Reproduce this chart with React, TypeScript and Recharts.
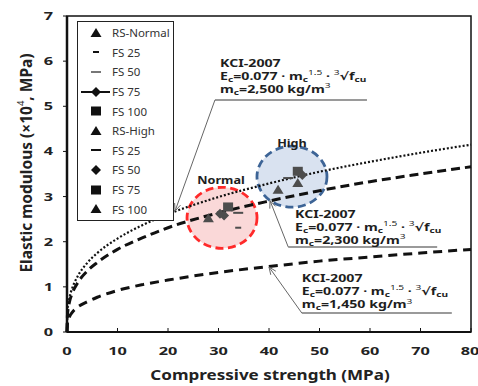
import { ComposedChart, Line, Scatter, XAxis, YAxis, ReferenceLine, ReferenceDot, ReferenceArea, Legend } from 'recharts';

// KCI-2007 curves (x10^4 MPa)
const strength = [0, 0.1, 0.5, 1, 2, 4, 6, 10, 15, 20, 30, 40, 50, 60, 70, 80];
const kci2500 = [0, 0.45, 0.76, 0.96, 1.21, 1.53, 1.75, 2.07, 2.37, 2.61, 2.99, 3.29, 3.55, 3.77, 3.97, 4.15];
const kci2300 = [0, 0.39, 0.67, 0.85, 1.07, 1.35, 1.54, 1.83, 2.09, 2.31, 2.64, 2.9, 3.13, 3.33, 3.5, 3.66];
const kci1450 = [0, 0.2, 0.34, 0.43, 0.54, 0.67, 0.77, 0.92, 1.05, 1.15, 1.32, 1.45, 1.57, 1.66, 1.75, 1.83];

const xTicks = [0, 10, 20, 30, 40, 50, 60, 70, 80];
const yTicks = [0, 1, 2, 3, 4, 5, 6, 7];

// measured specimens
const rsNormal = [{ x: 28.0, y: 2.52 }];
const fs25Normal = [{ x: 33.9, y: 2.31 }];
const fs50Normal = [{ x: 33.9, y: 2.64 }];
const fs75Normal = [{ x: 30.3, y: 2.62 }, { x: 31.1, y: 2.58 }];
const fs100Normal = [{ x: 31.9, y: 2.77 }];
const rsHigh = [{ x: 41.8, y: 3.15 }];
const fs25High = [{ x: 43.8, y: 3.41 }];
const fs50High = [{ x: 46.6, y: 3.48 }];
const fs75High = [{ x: 45.7, y: 3.56 }];
const fs100High = [{ x: 45.7, y: 3.3 }];

const legendLabels = ['RS-Normal', 'FS 25', 'FS 50', 'FS 75', 'FS 100', 'RS-High', 'FS 25', 'FS 50', 'FS 75', 'FS 100'];
const legendKinds = ['triangle', 'dot', 'dash', 'lineDiamond', 'square', 'triangle', 'dash', 'diamond', 'square', 'triangle'];

const curveData = strength.map((x, i) => ({ x, a: kci2500[i], b: kci2300[i], c: kci1450[i] }));

const FONT = '"Noto Sans", "DejaVu Sans", sans-serif';
const MARK = '#4d4d4d';

// the original figure is stretched sideways, so text gets a horizontal scale
function WideText({ x, y, sx = 1.35, anchor = 'start', size = 10.5, weight = 700, fill = '#1e1e1e', children }: any) {
  return (
    <text transform={`translate(${x} ${y}) scale(${sx} 1)`} textAnchor={anchor} fontSize={size} fontWeight={weight} fontFamily={FONT} fill={fill}>
      {children}
    </text>
  );
}

function Mark({ kind, cx, cy, color = MARK }: any) {
  if (cx == null || cy == null || isNaN(cx) || isNaN(cy)) return null;
  switch (kind) {
    case 'triangle':
      return <polygon points={`${cx},${cy - 5} ${cx + 5.5},${cy + 4} ${cx - 5.5},${cy + 4}`} fill={color} />;
    case 'square':
      return <rect x={cx - 5} y={cy - 4.5} width={10} height={9} fill={color} />;
    case 'diamond':
      return <polygon points={`${cx},${cy - 5} ${cx + 5},${cy} ${cx},${cy + 5} ${cx - 5},${cy}`} fill={color} />;
    case 'dot':
      return <rect x={cx - 3} y={cy - 1} width={6} height={2} fill={color} />;
    case 'dash':
      return <rect x={cx - 5} y={cy - 1} width={10} height={2} fill={color} />;
    default:
      return null;
  }
}

function LegendBox() {
  return (
    <div style={{ border: '1.5px solid #222', background: '#fff', width: 95, padding: '1px 0', fontFamily: FONT, fontSize: 11.5, color: '#333' }}>
      {legendLabels.map((label, i) => (
        <div key={i} style={{ display: 'flex', alignItems: 'center', height: 19.6 }}>
          <svg width={32} height={14} style={{ flex: 'none' }}>
            {legendKinds[i] === 'lineDiamond' ? (
              <g>
                <line x1={3} y1={7} x2={32} y2={7} stroke="#111" strokeWidth={2} />
                <Mark kind="diamond" cx={18} cy={7} color="#111" />
              </g>
            ) : (
              <Mark kind={legendKinds[i]} cx={18} cy={7} color={i === 2 ? '#777' : '#111'} />
            )}
          </svg>
          <span style={{ marginLeft: 2 }}>{label}</span>
        </div>
      ))}
    </div>
  );
}

function Note({ cx, cy, mc }: any) {
  const s = 7.5;
  return (
    <g>
      <WideText x={cx} y={cy}>KCI-2007</WideText>
      <WideText x={cx} y={cy + 13}>
        E<tspan fontSize={s} dy={2}>c</tspan>
        <tspan dy={-2}>=0.077 · m</tspan>
        <tspan fontSize={s} dy={2}>c</tspan>
        <tspan fontSize={s} fontWeight={400} dy={-6.5}>1.5</tspan>
        <tspan dy={4.5}> · </tspan>
        <tspan fontSize={s} fontWeight={400} dy={-4.5}>3</tspan>
        <tspan dy={4.5}>√f</tspan>
        <tspan fontSize={s} dy={2}>cu</tspan>
      </WideText>
      <WideText x={cx} y={cy + 26.2}>
        m<tspan fontSize={s} dy={2}>c</tspan>
        <tspan dy={-2}>={mc} kg/m</tspan>
        <tspan fontSize={s} fontWeight={400} dy={-4.5}>3</tspan>
      </WideText>
    </g>
  );
}

function Leader({ x1, y1, x2, y2 }: any) {
  const ang = Math.atan2(y2 - y1, x2 - x1);
  const L = 8;
  const p1 = [x2 - L * Math.cos(ang - 0.4), y2 - L * Math.sin(ang - 0.4)];
  const p2 = [x2 - L * Math.cos(ang + 0.4), y2 - L * Math.sin(ang + 0.4)];
  return (
    <g stroke="#666" strokeWidth={1} fill="none">
      <line x1={x1} y1={y1} x2={x2} y2={y2} />
      <polyline points={`${p1[0]},${p1[1]} ${x2},${y2} ${p2[0]},${p2[1]}`} />
    </g>
  );
}

function Bubble({ cx, cy, stroke, fill }: any) {
  return <ellipse cx={cx} cy={cy} rx={35} ry={30.5} fill={fill} fillOpacity={0.176} stroke={stroke} strokeWidth={2.8} strokeDasharray="8 4.5" />;
}

const XTick = ({ x, y, payload }: any) => (
  <WideText x={x} y={y + 7.5} anchor="middle" sx={1.55} size={10.5} fill="#222">{payload.value}</WideText>
);
const YTick = ({ x, y, payload }: any) => (
  <WideText x={x} y={y + 4} anchor="end" sx={1.55} size={10.5} fill="#222">{payload.value}</WideText>
);

export default function App() {
  return (
    <div style={{ position: 'absolute', left: 0, top: 0, background: '#fff' }}>
      <ComposedChart width={478} height={386} data={curveData} margin={{ top: 16, right: 7, bottom: 24, left: 27 }}>
        <ReferenceDot x={30.7} y={2.53} r={0} zIndex={0} shape={(p: any) => <Bubble {...p} stroke="#ff2a2a" fill="#e02020" />} />
        <ReferenceDot x={44.55} y={3.44} r={0} zIndex={0} shape={(p: any) => <Bubble {...p} stroke="#3d6496" fill="#285aaa" />} />
        <XAxis
          type="number"
          dataKey="x"
          domain={[0, 80]}
          ticks={xTicks}
          height={30}
          tick={<XTick />}
          tickSize={-4}
          tickMargin={19.5}
          tickLine={{ stroke: '#111' }}
          axisLine={{ stroke: '#111', strokeWidth: 2 }}
          label={{
            content: ({ viewBox }: any) => (
              <WideText x={viewBox.x + viewBox.width / 2 + 1} y={viewBox.y + 48} anchor="middle" sx={1.2} size={14.2} fill="#222">
                Compressive strength (MPa)
              </WideText>
            ),
          }}
        />
        <YAxis
          type="number"
          dataKey="y"
          domain={[0, 7]}
          ticks={yTicks}
          width={40}
          tick={<YTick />}
          tickSize={4}
          tickMargin={10}
          tickLine={{ stroke: '#111' }}
          axisLine={{ stroke: '#111', strokeWidth: 2.5 }}
          label={{
            content: ({ viewBox }: any) => {
              const cx = viewBox.x - 1;
              const cy = viewBox.y + viewBox.height / 2 - 11;
              return (
                <text transform={`translate(${cx} ${cy}) rotate(-90)`} textAnchor="middle" dominantBaseline="central" fontFamily={FONT} fontWeight={700} fontSize={15.5} fill="#222">
                  Elastic modulous (×10<tspan fontSize={9.5} fontWeight={400} dy={-6}>4</tspan><tspan dy={6}>, MPa)</tspan>
                </text>
              );
            },
          }}
        />
        <ReferenceArea x1={0} x2={80} y1={0} y2={7} fill="none" stroke="#111" strokeWidth={1.5} />
        <Line type="monotone" dataKey="a" stroke="#111" strokeWidth={2.2} strokeDasharray="2 2" dot={false} isAnimationActive={false} />
        <Line type="monotone" dataKey="b" stroke="#111" strokeWidth={3} strokeDasharray="9 5" dot={false} isAnimationActive={false} />
        <Line type="monotone" dataKey="c" stroke="#111" strokeWidth={3} strokeDasharray="9 6" dot={false} isAnimationActive={false} />

        <Scatter data={rsNormal} dataKey="y" isAnimationActive={false} shape={(p: any) => <Mark kind="triangle" {...p} />} />
        <Scatter data={fs25Normal} dataKey="y" isAnimationActive={false} shape={(p: any) => <Mark kind="dot" {...p} />} />
        <Scatter data={fs50Normal} dataKey="y" isAnimationActive={false} shape={(p: any) => <Mark kind="dash" {...p} />} />
        <Scatter data={fs75Normal} dataKey="y" isAnimationActive={false} shape={(p: any) => <Mark kind="diamond" {...p} />} />
        <Scatter data={fs100Normal} dataKey="y" isAnimationActive={false} shape={(p: any) => <Mark kind="square" {...p} />} />
        <Scatter data={rsHigh} dataKey="y" isAnimationActive={false} shape={(p: any) => <Mark kind="triangle" {...p} />} />
        <Scatter data={fs25High} dataKey="y" isAnimationActive={false} shape={(p: any) => <Mark kind="dash" {...p} />} />
        <Scatter data={fs50High} dataKey="y" isAnimationActive={false} shape={(p: any) => <Mark kind="diamond" {...p} />} />
        <Scatter data={fs75High} dataKey="y" isAnimationActive={false} shape={(p: any) => <Mark kind="square" {...p} />} />
        <Scatter data={fs100High} dataKey="y" isAnimationActive={false} shape={(p: any) => <Mark kind="triangle" {...p} />} />

        <ReferenceDot x={30.5} y={3.28} r={0} shape={(p: any) => <WideText x={p.cx} y={p.cy} anchor="middle" sx={1.15} size={11}>Normal</WideText>} />
        <ReferenceDot x={44.55} y={4.1} r={0} shape={(p: any) => <WideText x={p.cx} y={p.cy} anchor="middle" sx={1.15} size={11}>High</WideText>} />

        <ReferenceLine segment={[{ x: 29.3, y: 5.14 }, { x: 59.4, y: 5.14 }]} stroke="#9a9a9a" strokeWidth={2} />
        <ReferenceLine segment={[{ x: 29.3, y: 5.14 }, { x: 21.4, y: 2.68 }]} shape={(p: any) => <Leader {...p} />} />
        <ReferenceDot x={30.3} y={5.876} r={0} shape={(p: any) => <Note {...p} mc="2,500" />} />

        <ReferenceLine segment={[{ x: 43.8, y: 1.885 }, { x: 73.3, y: 1.885 }]} stroke="#9a9a9a" strokeWidth={2} />
        <ReferenceLine segment={[{ x: 43.8, y: 1.885 }, { x: 40.2, y: 2.91 }]} shape={(p: any) => <Leader {...p} />} />
        <ReferenceDot x={45.15} y={2.53} r={0} shape={(p: any) => <Note {...p} mc="2,300" />} />

        <ReferenceLine segment={[{ x: 46.5, y: 0.42 }, { x: 76.2, y: 0.42 }]} stroke="#9a9a9a" strokeWidth={2} />
        <ReferenceLine segment={[{ x: 46.5, y: 0.42 }, { x: 40.0, y: 1.44 }]} shape={(p: any) => <Leader {...p} />} />
        <ReferenceDot x={46.5} y={1.11} r={0} shape={(p: any) => <Note {...p} mc="1,450" />} />

        <Legend
          layout="vertical"
          align="center"
          verticalAlign="middle"
          content={() => <LegendBox />}
          wrapperStyle={{ left: 77, top: 21, width: 'auto', height: 'auto' }}
        />
      </ComposedChart>
    </div>
  );
}
